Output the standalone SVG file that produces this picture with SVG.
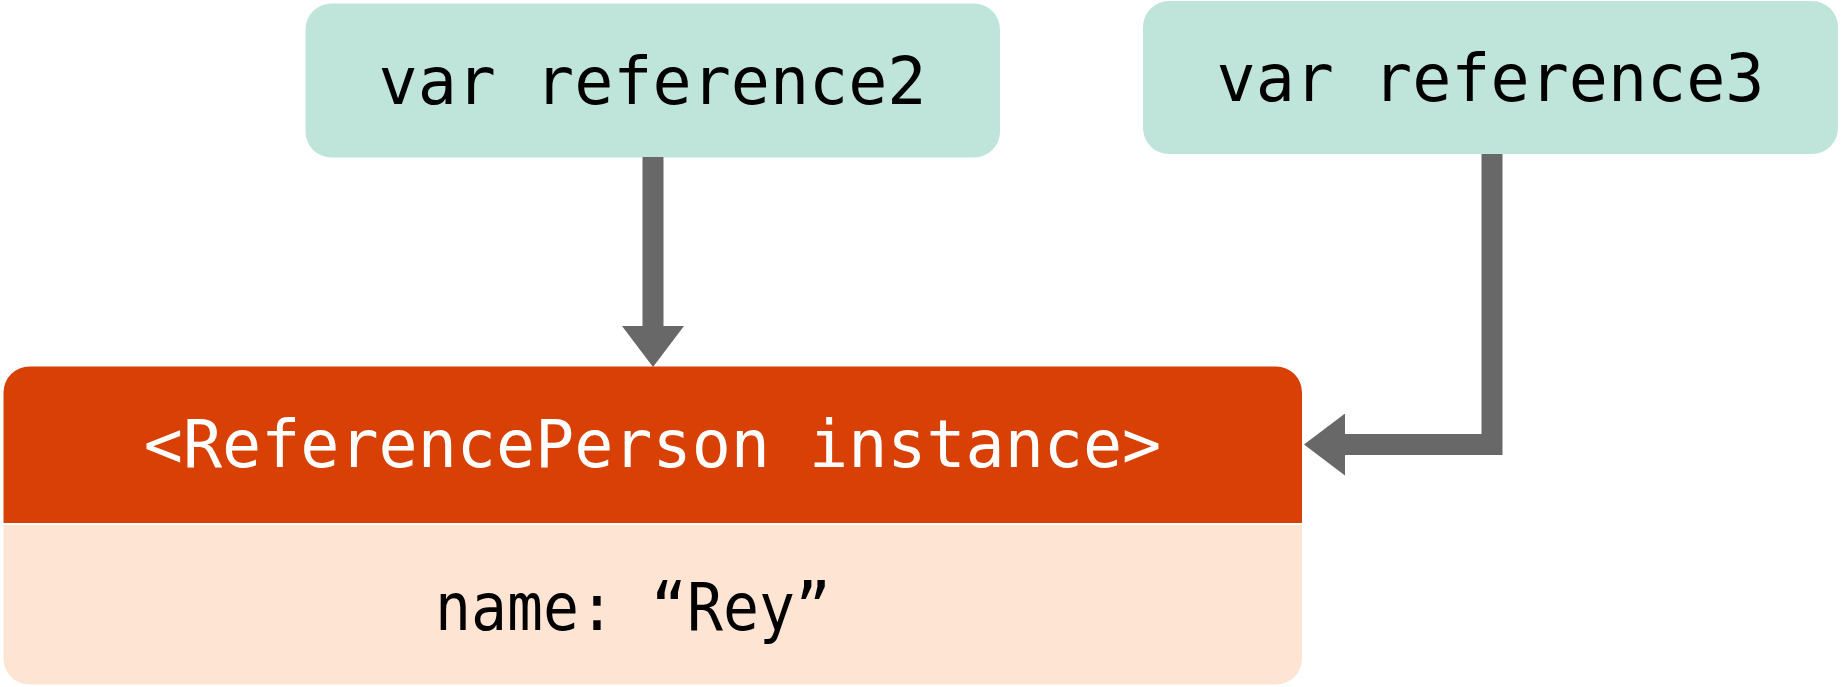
<svg xmlns="http://www.w3.org/2000/svg" width="1842" height="687" viewBox="0 0 1842 687">
  <style>
    .var { fill: #BFE5DA; }
    .t { font-family: "DejaVu Sans Mono", "Liberation Mono", monospace; font-size: 65px; text-anchor: middle; }
    .dark { fill: #000000; }
    .light { fill: #FFFFFF; }
    .conn { fill: none; stroke: #686868; stroke-width: 21; stroke-linejoin: miter; }
  </style>
  <defs>
    <marker id="arrow" markerUnits="userSpaceOnUse" markerWidth="42" markerHeight="62" refX="0" refY="31" orient="auto" viewBox="0 0 42 62">
      <path d="M0,0 L41,31 L0,62 Z" fill="#686868"/>
    </marker>
  </defs>
  <rect width="1842" height="687" fill="#FFFFFF"/>

  <g id="reference2">
    <rect class="var" x="305.5" y="3.5" width="694.5" height="154" rx="26"/>
    <text class="t dark" x="652.5" y="103.5">var reference2</text>
  </g>

  <g id="reference3">
    <rect class="var" x="1143" y="1" width="695" height="153" rx="26"/>
    <text class="t dark" x="1490.5" y="100.5">var reference3</text>
  </g>

  <g id="instance">
    <path d="M3.5,523 V392.5 A26,26 0 0 1 29.5,366.5 H1276 A26,26 0 0 1 1302,392.5 V523 Z" fill="#D84005"/>
    <path d="M3.5,525 H1302 V658.5 A26,26 0 0 1 1276,684.5 H29.5 A26,26 0 0 1 3.5,658.5 Z" fill="#FEE4D3"/>
    <text class="t light" x="652.5" y="467">&lt;ReferencePerson instance&gt;</text>
    <text class="t dark" x="633" y="629.5" textLength="396" lengthAdjust="spacingAndGlyphs">name: “Rey”</text>
  </g>

  <g id="connectors">
    <path class="conn" d="M653,157 V326" marker-end="url(#arrow)"/>
    <path class="conn" d="M1492,154 V444.5 H1345" marker-end="url(#arrow)"/>
  </g>
</svg>
